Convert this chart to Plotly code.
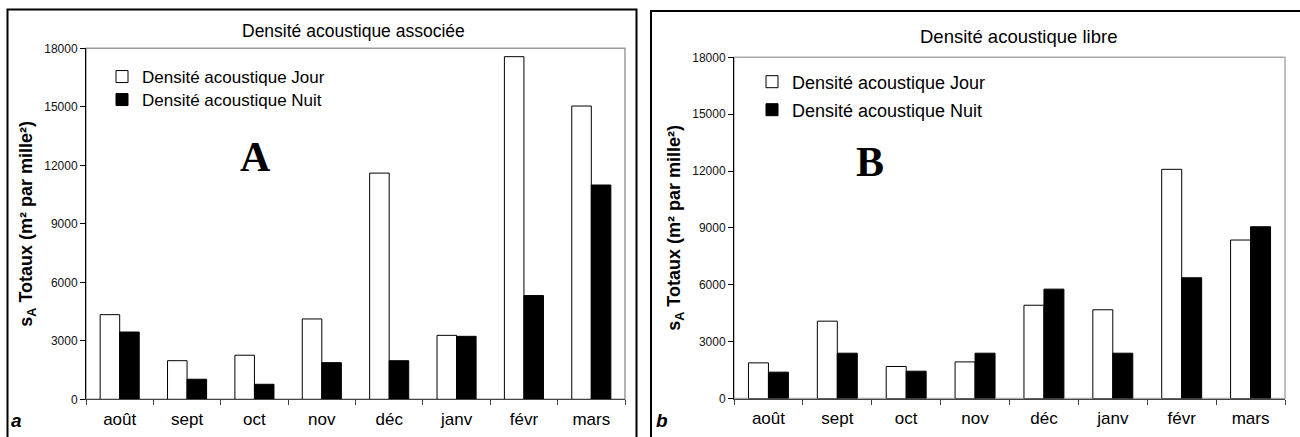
import plotly.graph_objects as go

# Months (August to March)
months = ['août', 'sept', 'oct', 'nov', 'déc', 'janv', 'févr', 'mars']

# Panel A: associated acoustic density (sA, m² per square mile)
assoc_jour = [4340, 1980, 2260, 4120, 11600, 3280, 17570, 15040]
assoc_nuit = [3450, 1030, 770, 1880, 1980, 3230, 5320, 10990]

# Panel B: free acoustic density
libre_jour = [1880, 4080, 1690, 1930, 4920, 4680, 12090, 8360]
libre_nuit = [1390, 2390, 1440, 2390, 5770, 2390, 6370, 9060]

y_ticks = [0, 3000, 6000, 9000, 12000, 15000, 18000]

W, H = 1300, 437
FONT = 'Liberation Sans, Arial, sans-serif'
SERIF = 'Liberation Serif, Times New Roman, serif'


def px(x):
    return x / W


def py(y):
    return (H - y) / H


fig = go.Figure()

# one legend per entry so each can be placed like in the original
fig.add_trace(go.Bar(x=months, y=assoc_jour, name='Densité acoustique Jour',
                     marker=dict(color='white', line=dict(color='black', width=1)),
                     xaxis='x', yaxis='y', legend='legend', showlegend=True))
fig.add_trace(go.Bar(x=months, y=assoc_nuit, name='Densité acoustique Nuit',
                     marker=dict(color='black', line=dict(color='black', width=1)),
                     xaxis='x', yaxis='y', legend='legend2', showlegend=True))
fig.add_trace(go.Bar(x=months, y=libre_jour, name='Densité acoustique Jour',
                     marker=dict(color='white', line=dict(color='black', width=1)),
                     xaxis='x2', yaxis='y2', legend='legend3', showlegend=True))
fig.add_trace(go.Bar(x=months, y=libre_nuit, name='Densité acoustique Nuit',
                     marker=dict(color='black', line=dict(color='black', width=1)),
                     xaxis='x2', yaxis='y2', legend='legend4', showlegend=True))

xaxis_common = dict(
    type='category', showgrid=False, zeroline=False, automargin=False,
    showline=True, linecolor='#444', linewidth=1,
    ticks='outside', tickson='boundaries', ticklen=5, tickcolor='#444',
    tickfont=dict(family=FONT, size=17, color='black'),
    ticklabelstandoff=4, fixedrange=True,
)
yaxis_common = dict(
    range=[0, 18000], tickvals=y_ticks, tickformat='d',
    showgrid=False, zeroline=False, automargin=False,
    showline=True, linecolor='black', linewidth=1,
    ticks='outside', ticklen=5, tickcolor='black',
    tickfont=dict(family=FONT, size=12, color='#111'),
    title=dict(text='s<sub>A</sub> Totaux (m² par mille²)',
               font=dict(family=FONT, size=18, color='black', weight='bold'),
               standoff=6),
    fixedrange=True,
)


def legend_at(x, y, size):
    return dict(visible=True, x=px(x), y=py(y), xanchor='left', yanchor='middle',
                bgcolor='rgba(0,0,0,0)', borderwidth=0,
                font=dict(family=FONT, size=size, color='black'))


fig.update_layout(
    width=W, height=H, autosize=False, showlegend=True,
    margin=dict(l=0, r=0, t=0, b=0),
    paper_bgcolor='white', plot_bgcolor='white',
    barmode='group', bargap=0.42, bargroupgap=0,
    font=dict(family=FONT, color='black'),
    xaxis=dict(domain=[px(86), px(625)], anchor='y', **xaxis_common),
    yaxis=dict(domain=[py(399.3), py(48.3)], anchor='x', **yaxis_common),
    xaxis2=dict(domain=[px(734), px(1285)], anchor='y2', **xaxis_common),
    yaxis2=dict(domain=[py(398.5), py(57.3)], anchor='x2', **yaxis_common),
    legend=legend_at(102, 77, 17),
    legend2=legend_at(102, 100, 17),
    legend3=legend_at(752, 82, 18),
    legend4=legend_at(752, 110, 18),
    shapes=[
        # plot-area frames (grey)
        dict(type='rect', xref='x domain', yref='y domain', x0=0, x1=1, y0=0, y1=1,
             line=dict(color='#999', width=1.5), layer='below'),
        dict(type='rect', xref='x2 domain', yref='y2 domain', x0=0, x1=1, y0=0, y1=1,
             line=dict(color='#aaa', width=1.5), layer='below'),
        # outer panel borders
        dict(type='rect', xref='paper', yref='paper', x0=px(7.5), x1=px(636.5),
             y0=-0.1, y1=py(9.5), line=dict(color='black', width=2), layer='below'),
        dict(type='rect', xref='paper', yref='paper', x0=px(651), x1=1.1,
             y0=-0.1, y1=py(11), line=dict(color='black', width=2), layer='below'),
    ],
    annotations=[
        dict(text='Densité acoustique associée', x=px(353), y=py(31),
             font=dict(family=FONT, size=17.5)),
        dict(text='Densité acoustique libre', x=px(1018), y=py(37),
             font=dict(family=FONT, size=18.5)),
        dict(text='<b>A</b>', x=px(255), y=py(157), font=dict(family=SERIF, size=42)),
        dict(text='<b>B</b>', x=px(870), y=py(162), font=dict(family=SERIF, size=42)),
        dict(text='<b><i>a</i></b>', x=px(16), y=py(420), font=dict(family=FONT, size=19)),
        dict(text='<b><i>b</i></b>', x=px(662), y=py(420), font=dict(family=FONT, size=19)),
    ],
)
fig.update_annotations(xref='paper', yref='paper', xanchor='center', yanchor='middle',
                       showarrow=False)

fig.write_html('out.html', config={'displayModeBar': False},
               post_script="document.body.style.margin='0';")
